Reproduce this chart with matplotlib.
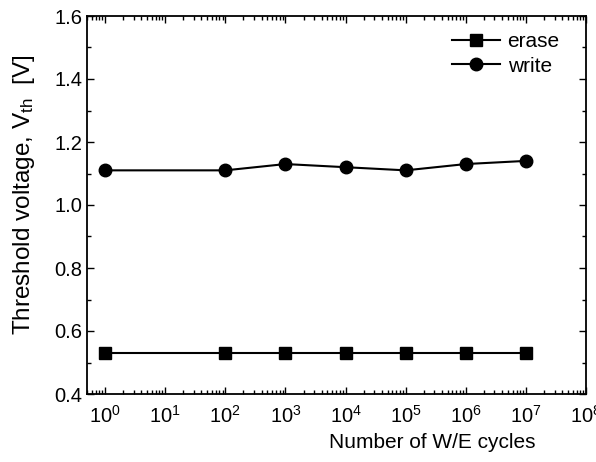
import matplotlib.pyplot as plt
from matplotlib.ticker import LogLocator, MultipleLocator, NullFormatter

cycles = [1, 1e2, 1e3, 1e4, 1e5, 1e6, 1e7]
erase = [0.53, 0.53, 0.53, 0.53, 0.53, 0.53, 0.53]
write = [1.11, 1.11, 1.13, 1.12, 1.11, 1.13, 1.14]

plt.rcParams['font.family'] = ['Liberation Sans', 'DejaVu Sans']
plt.rcParams['mathtext.fontset'] = 'custom'
plt.rcParams['mathtext.rm'] = 'Liberation Sans'
plt.rcParams['mathtext.it'] = 'Liberation Sans'

fig = plt.figure(figsize=(5.96, 4.62), dpi=100)
ax = fig.add_axes([87 / 596, 1 - 394 / 462, (586 - 87) / 596, (394 - 16) / 462])

ax.plot(cycles, erase, color='black', lw=1.5, marker='s', ms=8, label='erase')
ax.plot(cycles, write, color='black', lw=1.5, marker='o', ms=9, label='write')

ax.set_xscale('log')
ax.set_xlim(0.5, 1e8)
ax.set_ylim(0.4, 1.6)
ax.xaxis.set_major_locator(LogLocator(base=10, numticks=20))
ax.xaxis.set_minor_locator(LogLocator(base=10, subs=range(2, 10), numticks=20))
ax.xaxis.set_minor_formatter(NullFormatter())
ax.yaxis.set_major_locator(MultipleLocator(0.2))
ax.yaxis.set_minor_locator(MultipleLocator(0.1))
ax.yaxis.set_major_formatter(plt.FuncFormatter(lambda v, p: f'{v:.1f}'))

ax.tick_params(which='both', direction='in', top=True, right=True, labelsize=14.5)
ax.tick_params(which='major', length=5, width=1)
ax.tick_params(which='minor', length=3, width=1)
ax.tick_params(axis='x', pad=8)
for s in ax.spines.values():
    s.set_linewidth(1.3)

ax.set_xlabel('Number of W/E cycles', fontsize=15)
ax.set_ylabel(r'Threshold voltage, V$_{\mathrm{th}}$  [V]', fontsize=17.5)
# label centres in figure pixels
ax.xaxis.set_label_coords(432 / 596, 1 - 442 / 462, transform=fig.transFigure)
ax.xaxis.label.set_va('center')
ax.yaxis.set_label_coords(24 / 596, 1 - 195 / 462, transform=fig.transFigure)
ax.yaxis.label.set_va('center')

ax.legend(loc='upper right', frameon=False, fontsize=15, handlelength=2.3,
          handletextpad=0.35, labelspacing=0.25, borderaxespad=0,
          bbox_to_anchor=(568 / 596, 1 - 24 / 462), bbox_transform=fig.transFigure)

fig.savefig('out.png', dpi=100)
